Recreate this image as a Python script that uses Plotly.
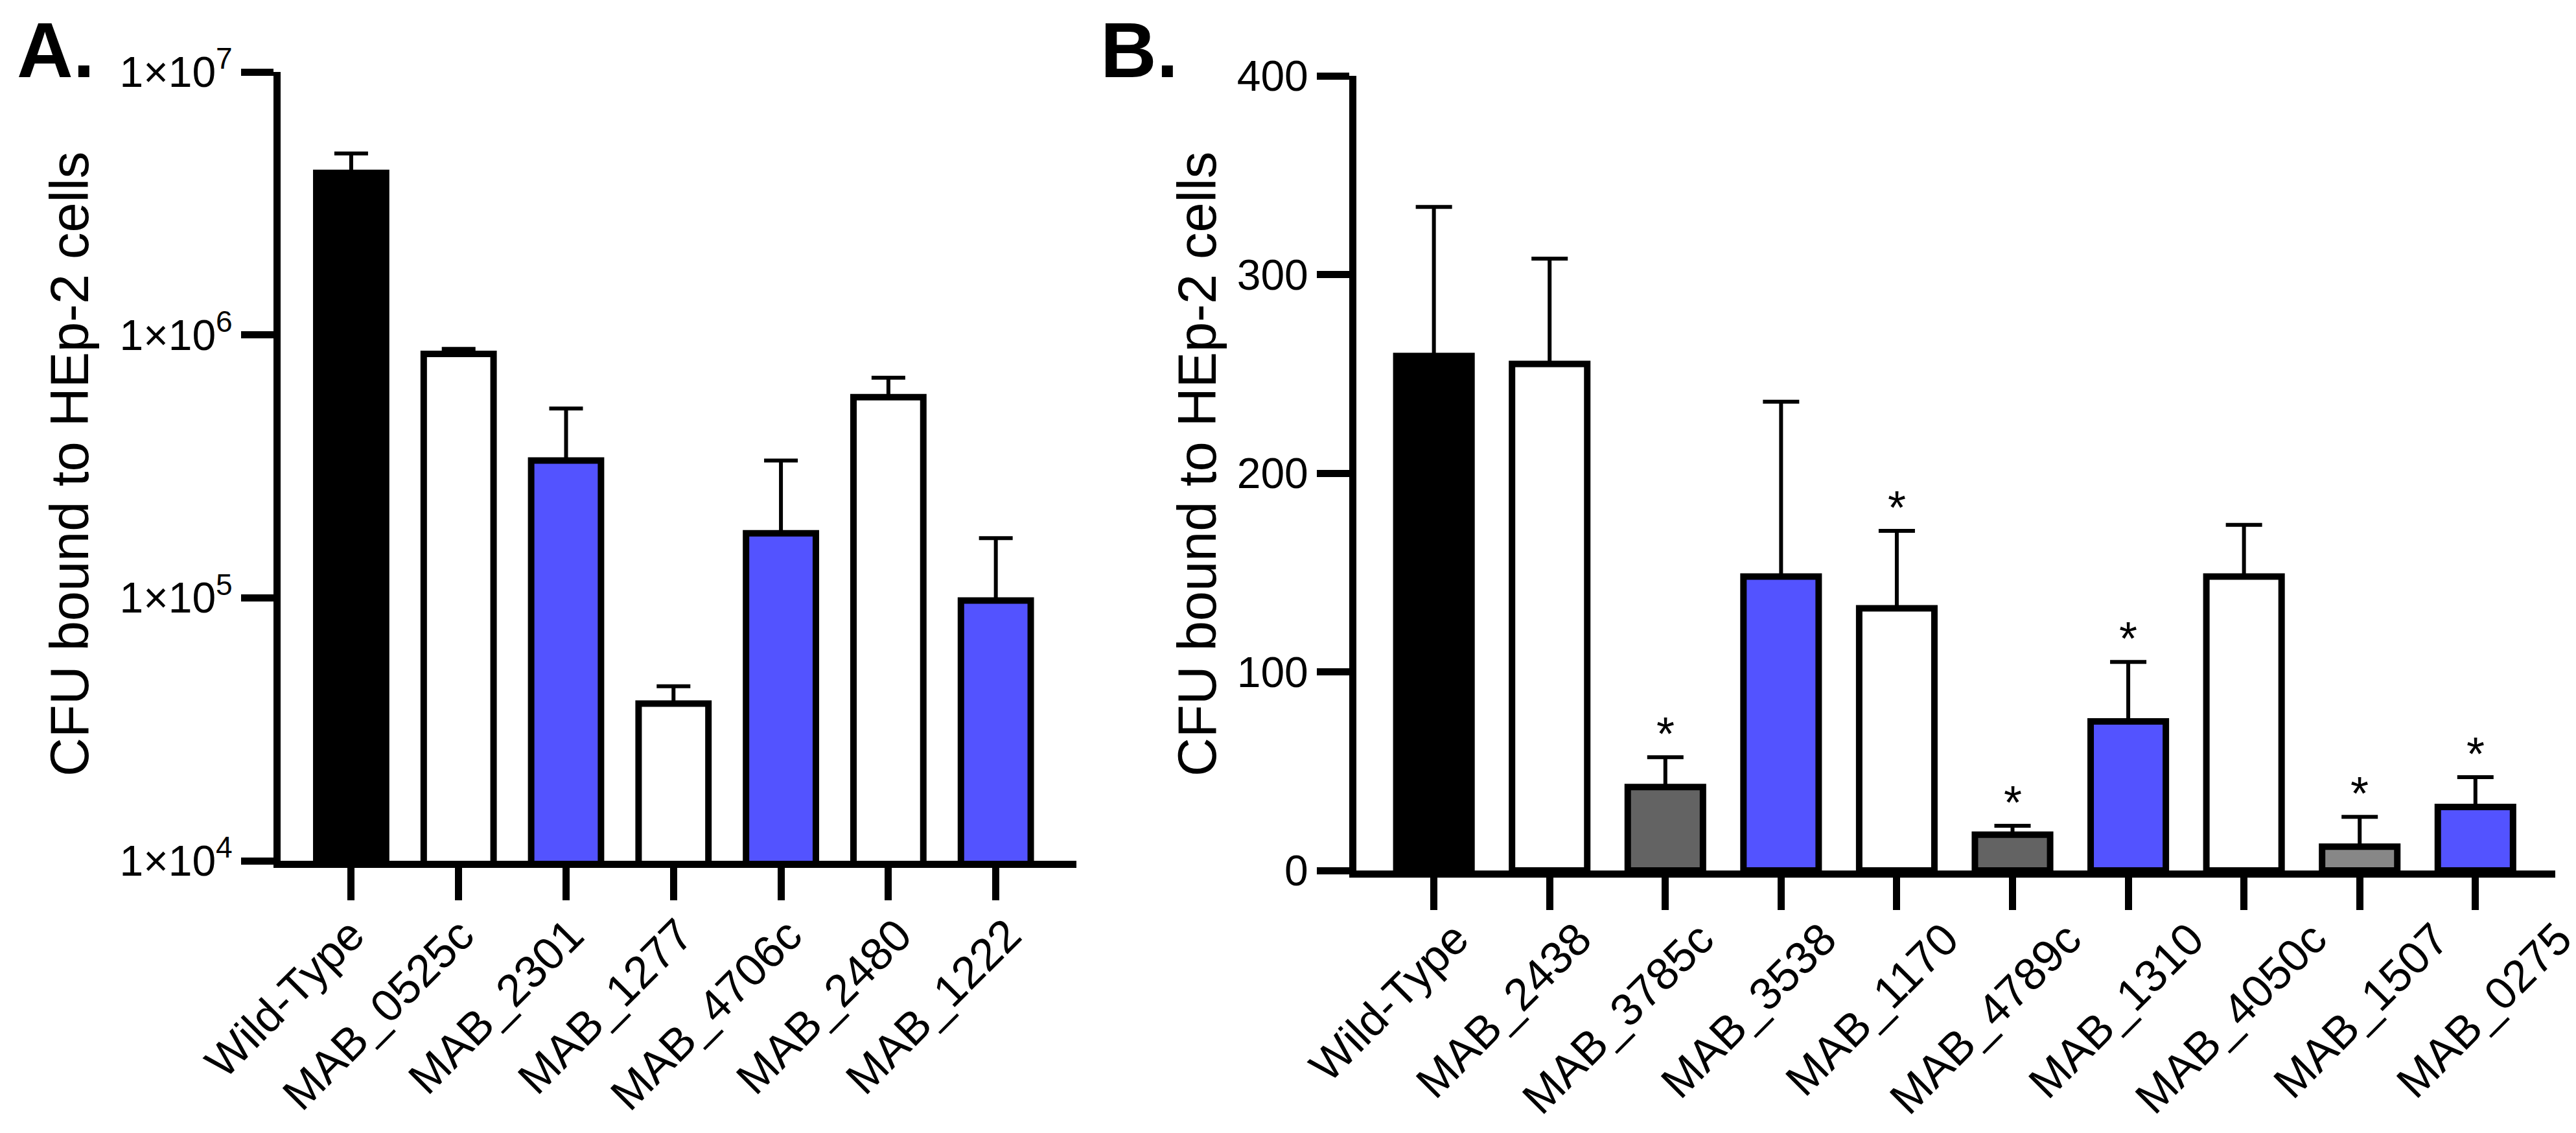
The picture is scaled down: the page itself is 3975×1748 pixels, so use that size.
import plotly.graph_objects as go

# panel A (log scale)
strains_a = ["Wild-Type", "MAB_0525c", "MAB_2301", "MAB_1277", "MAB_4706c", "MAB_2480", "MAB_1222"]
cfu_a = [4.13e6, 8.47e5, 3.33e5, 3.96e4, 1.76e5, 5.8e5, 9.77e4]
err_a = [0.77e6, 0.38e5, 1.92e5, 0.65e4, 1.57e5, 1.07e5, 7.1e4]
fill_a = ["black", "white", "blue", "white", "blue", "white", "blue"]

# panel B (linear)
strains_b = ["Wild-Type", "MAB_2438", "MAB_3785c", "MAB_3538", "MAB_1170",
             "MAB_4789c", "MAB_1310", "MAB_4050c", "MAB_1507", "MAB_0275"]
cfu_b = [259, 255, 42, 148, 132, 18, 75, 148, 12, 32]
err_b = [75, 53, 15, 88, 39, 4.5, 30, 26, 15, 15]
fill_b = ["black", "white", "dark", "blue", "white", "dark", "blue", "white", "gray", "blue"]
signif_b = [False, False, True, False, True, True, True, False, True, True]

ytick_a = [1e4, 1e5, 1e6, 1e7]
ytick_a_text = ["1×10<sup>4</sup>", "1×10<sup>5</sup>", "1×10<sup>6</sup>", "1×10<sup>7</sup>"]
ytick_b = [0, 100, 200, 300, 400]

palette = {"black": "#000000", "white": "#ffffff", "blue": "#5353ff",
           "dark": "#636363", "gray": "#878787"}
FONT = "Liberation Sans, Arial, sans-serif"
W, H = 3975, 1748

fig = go.Figure()

fig.add_trace(go.Bar(
    x=strains_a, y=cfu_a, xaxis="x", yaxis="y",
    marker=dict(color=[palette[c] for c in fill_a], line=dict(color="black", width=10)),
    error_y=dict(type="data", array=err_a, arrayminus=[0] * len(err_a), symmetric=False,
                 color="black", thickness=6, width=26),
    showlegend=False,
))
fig.add_trace(go.Bar(
    x=strains_b, y=cfu_b, xaxis="x2", yaxis="y2",
    marker=dict(color=[palette[c] for c in fill_b], line=dict(color="black", width=10)),
    error_y=dict(type="data", array=err_b, arrayminus=[0] * len(err_b), symmetric=False,
                 color="black", thickness=6, width=28),
    showlegend=False,
))

axis_common = dict(showline=True, linecolor="black", linewidth=11, ticks="outside",
                   ticklen=50, tickwidth=11, tickcolor="black", showgrid=False,
                   zeroline=False, fixedrange=True, automargin=False)

fig.update_layout(
    width=W, height=H,
    margin=dict(l=0, r=0, t=0, b=0),
    paper_bgcolor="white", plot_bgcolor="white",
    font=dict(family=FONT, color="black"),
    bargap=0.35,
    xaxis=dict(domain=[425 / W, 1653 / W], anchor="y", range=[-0.657, 6.75],
               showticklabels=False, **axis_common),
    yaxis=dict(domain=[1 - 1320 / H, 1 - 103 / H], anchor="x", type="log", range=[4, 7],
               tickvals=ytick_a, ticktext=ytick_a_text, tickfont=dict(size=66), **axis_common),
    xaxis2=dict(domain=[2085 / W, 3935 / W], anchor="y2", range=[-0.67, 9.69],
                showticklabels=False, **axis_common),
    yaxis2=dict(domain=[1 - 1335 / H, 1 - 109 / H], anchor="x2", range=[0, 400],
                tickvals=ytick_b, tickfont=dict(size=66), **axis_common),
)

# slanted category labels (Prism spreads them a little wider than the ticks)
for i, name in enumerate(strains_a):
    fig.add_annotation(x=name, xref="x", y=1 - 1392 / H, yref="paper", text=name,
                       textangle=-45, xanchor="right", yanchor="top", showarrow=False,
                       xshift=38 + 3 * i, font=dict(size=70))
for i, name in enumerate(strains_b):
    fig.add_annotation(x=name, xref="x2", y=1 - 1398 / H, yref="paper", text=name,
                       textangle=-45, xanchor="right", yanchor="top", showarrow=False,
                       xshift=71 + 10.5 * i, font=dict(size=70))

# significance stars above the error bars
for name, m, e, s in zip(strains_b, cfu_b, err_b, signif_b):
    if s:
        fig.add_annotation(x=name, y=m + e, xref="x2", yref="y2", text="*",
                           showarrow=False, yanchor="bottom", yshift=-6,
                           font=dict(size=72, family=FONT))

# y titles
ytitle = "CFU bound to HEp-2 cells"
fig.add_annotation(x=100 / W, y=1 - 708 / H, xref="paper", yref="paper", text=ytitle,
                   textangle=-90, showarrow=False, xanchor="center", font=dict(size=83))
fig.add_annotation(x=1840 / W, y=1 - 708 / H, xref="paper", yref="paper", text=ytitle,
                   textangle=-90, showarrow=False, xanchor="center", font=dict(size=83))

# panel letters
fig.add_annotation(x=16 / W, y=1, xref="paper", yref="paper", text="<b>A.</b>",
                   xanchor="left", yanchor="top", showarrow=False, font=dict(size=120))
fig.add_annotation(x=1688 / W, y=1, xref="paper", yref="paper", text="<b>B.</b>",
                   xanchor="left", yanchor="top", showarrow=False, font=dict(size=120))

fig.write_html("out.html")
